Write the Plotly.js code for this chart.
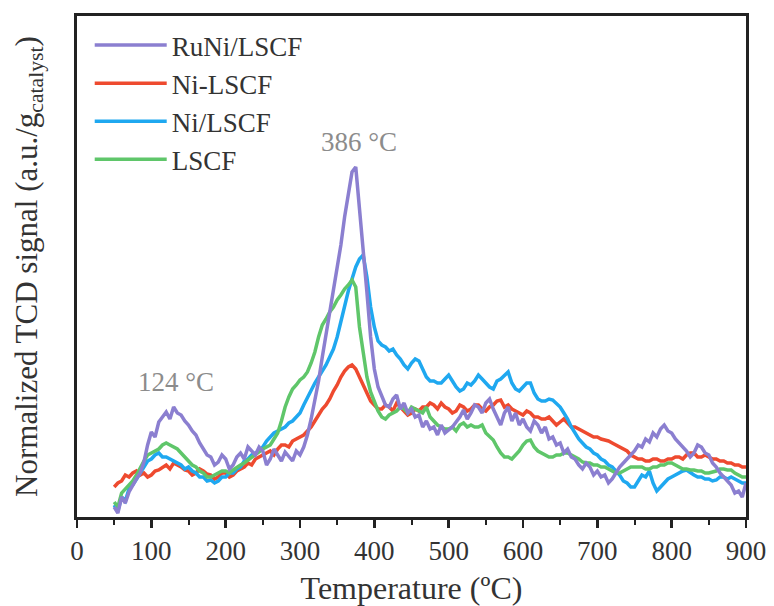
<!DOCTYPE html>
<html>
<head>
<meta charset="utf-8">
<script src="https://cdn.plot.ly/plotly-3.0.1.min.js"></script>
<style>html,body{margin:0;padding:0;background:#fff;}#chart{width:774px;height:606px;}</style>
</head>
<body>
<div id="chart"></div>
<script>
// Temperature grid (ºC)
const temperature = [
  50,55,60,65,70,75,80,85,90,95,
  100,105,110,115,120,125,130,135,140,145,
  150,155,160,165,170,175,180,185,190,195,
  200,205,210,215,220,225,230,235,240,245,
  250,255,260,265,270,275,280,285,290,295,
  300,305,310,315,320,325,330,335,340,345,
  350,355,360,365,370,375,380,385,390,395,
  400,405,410,415,420,425,430,435,440,445,
  450,455,460,465,470,475,480,485,490,495,
  500,505,510,515,520,525,530,535,540,545,
  550,555,560,565,570,575,580,585,590,595,
  600,605,610,615,620,625,630,635,640,645,
  650,655,660,665,670,675,680,685,690,695,
  700,705,710,715,720,725,730,735,740,745,
  750,755,760,765,770,775,780,785,790,795,
  800,805,810,815,820,825,830,835,840,845,
  850,855,860,865,870,875,880,885,890,895,
  900];

// Normalized TCD signal (a.u.)
const ruNiLSCF = [
  10,4,20,14,25,32,38,44,55,72,
  85,80,95,100,105,98,110,104,102,96,
  92,86,82,74,68,62,60,52,55,62,
  58,48,52,60,64,58,70,66,62,70,
  66,52,58,68,62,56,65,60,56,66,
  62,70,82,98,115,136,160,182,204,226,
  250,272,300,322,345,350,310,270,225,180,
  148,130,122,112,110,118,122,108,114,104,
  108,100,102,90,96,88,90,82,92,84,
  87,90,95,100,107,98,104,112,110,104,
  114,118,108,100,92,104,110,96,104,92,
  98,90,86,96,92,84,90,78,80,72,
  74,64,68,60,58,52,48,54,50,42,
  46,40,42,34,38,44,50,54,58,62,
  66,72,70,78,75,84,80,88,92,86,
  84,78,74,70,66,60,64,72,70,64,
  62,54,50,44,40,36,32,24,26,20,
  34];
const niDashLSCF = [
  30,34,36,42,40,44,46,42,44,40,
  42,46,47,50,52,48,54,52,50,47,
  46,42,44,48,46,43,42,38,40,44,
  44,40,42,46,48,50,54,52,58,60,
  62,64,66,62,68,72,72,70,76,78,
  80,82,86,90,96,102,108,112,118,126,
  132,140,146,150,152,148,140,130,122,116,
  112,108,108,112,110,106,114,110,106,102,
  104,108,106,110,110,114,112,108,114,110,
  108,104,106,112,110,106,108,112,112,108,
  106,110,112,116,117,110,112,108,106,104,
  102,106,104,100,100,98,98,100,96,92,
  95,98,94,90,90,88,86,84,82,80,
  80,78,77,76,74,72,70,68,66,62,
  60,58,58,56,56,58,58,56,56,58,
  58,60,60,58,62,64,64,60,60,62,
  60,58,58,56,56,54,54,52,52,50,
  50];
const niSlashLSCF = [
  12,6,20,16,28,32,38,44,50,56,
  58,62,64,60,60,58,56,54,52,48,
  50,46,44,40,40,36,37,34,36,40,
  40,44,44,48,50,56,58,62,64,66,
  70,76,80,84,86,88,90,94,96,100,
  104,112,120,128,134,140,146,152,160,168,
  180,196,210,226,238,250,258,262,240,210,
  190,176,172,170,166,168,162,158,152,148,
  154,158,156,148,140,136,136,134,134,138,
  142,136,130,126,128,134,132,136,142,138,
  134,130,128,136,138,142,145,134,128,126,
  130,134,134,124,118,116,116,118,117,114,
  110,104,98,90,84,78,74,70,68,64,
  62,58,56,52,50,46,42,36,34,30,
  30,36,42,40,46,34,26,30,34,38,
  40,42,44,46,47,44,42,40,40,38,
  38,36,37,40,40,38,40,38,36,34,
  34];
const lscf = [
  15,10,24,28,32,36,42,50,56,62,
  64,66,68,72,74,72,70,68,64,60,
  56,52,50,46,44,40,40,42,44,46,
  46,44,47,50,52,54,57,60,62,66,
  68,70,72,78,84,96,110,120,128,132,
  137,140,145,154,165,180,192,198,205,210,
  217,222,228,232,237,230,190,165,140,125,
  116,106,100,98,102,104,106,110,108,104,
  110,108,106,104,110,100,96,92,90,88,
  88,90,86,92,94,90,92,90,90,92,
  84,80,77,70,64,60,60,58,62,66,
  72,76,77,70,66,64,62,60,60,62,
  62,64,64,62,60,58,55,54,54,52,
  52,50,50,48,46,44,44,46,48,50,
  50,50,50,48,48,50,50,52,52,54,
  54,52,50,48,48,47,47,46,46,44,
  44,45,46,48,48,47,47,44,42,40,
  40];

const seriesNames = ['RuNi/LSCF','Ni-LSCF','Ni/LSCF','LSCF'];
const xTickVals = [0,100,200,300,400,500,600,700,800,900];

const colors = ['#8b7fd0','#ee4a2f','#1fa8f0','#5fc66a'];
const fontFam = 'Liberation Serif, Times New Roman, serif';

function tr(y, i, rank){
  return {x: temperature, y: y, name: seriesNames[i], type:'scatter', mode:'lines',
          line:{color:colors[i], width:3.5}, legendrank: rank};
}
const data = [
  tr(niDashLSCF,1,2),
  tr(niSlashLSCF,2,3),
  tr(lscf,3,4),
  tr(ruNiLSCF,0,1)
];

const layout = {
  width:774, height:606,
  margin:{l:77, r:28, t:16, b:89},
  paper_bgcolor:'#fff', plot_bgcolor:'#fff',
  font:{family:fontFam, color:'#333', size:27},
  showlegend:true,
  legend:{x:0.019, y:0.99, xanchor:'left', yanchor:'top', bgcolor:'rgba(0,0,0,0)',
          itemwidth:72,
          font:{family:fontFam, size:27, color:'#333'}, tracegroupgap:0},
  xaxis:{range:[0,900], tickvals:xTickVals, ticktext:xTickVals.map(String),
         ticks:'outside', ticklen:8, tickwidth:2.5, tickcolor:'#222',
         minor:{dtick:50, tick0:0, ticks:'outside', ticklen:5, tickwidth:2, tickcolor:'#222', showgrid:false},
         showline:true, linecolor:'#222', linewidth:3, mirror:true,
         showgrid:false, zeroline:false,
         tickfont:{family:fontFam, size:27, color:'#333'},
         title:{text:'Temperature (ºC)', font:{family:fontFam, size:32, color:'#333'}, standoff:12}},
  yaxis:{range:[0,501], showticklabels:false, ticks:'', showline:true, linecolor:'#222', linewidth:3, mirror:true,
         showgrid:false, zeroline:false,
         title:{text:'Normalized TCD signal (a.u./g<sub>catalyst</sub>)', font:{family:fontFam, size:31, color:'#333'}, standoff:28}},
  annotations:[
    {x:379, y:375, xref:'x', yref:'y', text:'386 °C', showarrow:false, font:{family:fontFam, size:27, color:'#8c8c8c'}},
    {x:133, y:135, xref:'x', yref:'y', text:'124 °C', showarrow:false, font:{family:fontFam, size:27, color:'#8c8c8c'}}
  ]
};

Plotly.newPlot('chart', data, layout, {displayModeBar:false, staticPlot:true});
</script>
</body>
</html>
